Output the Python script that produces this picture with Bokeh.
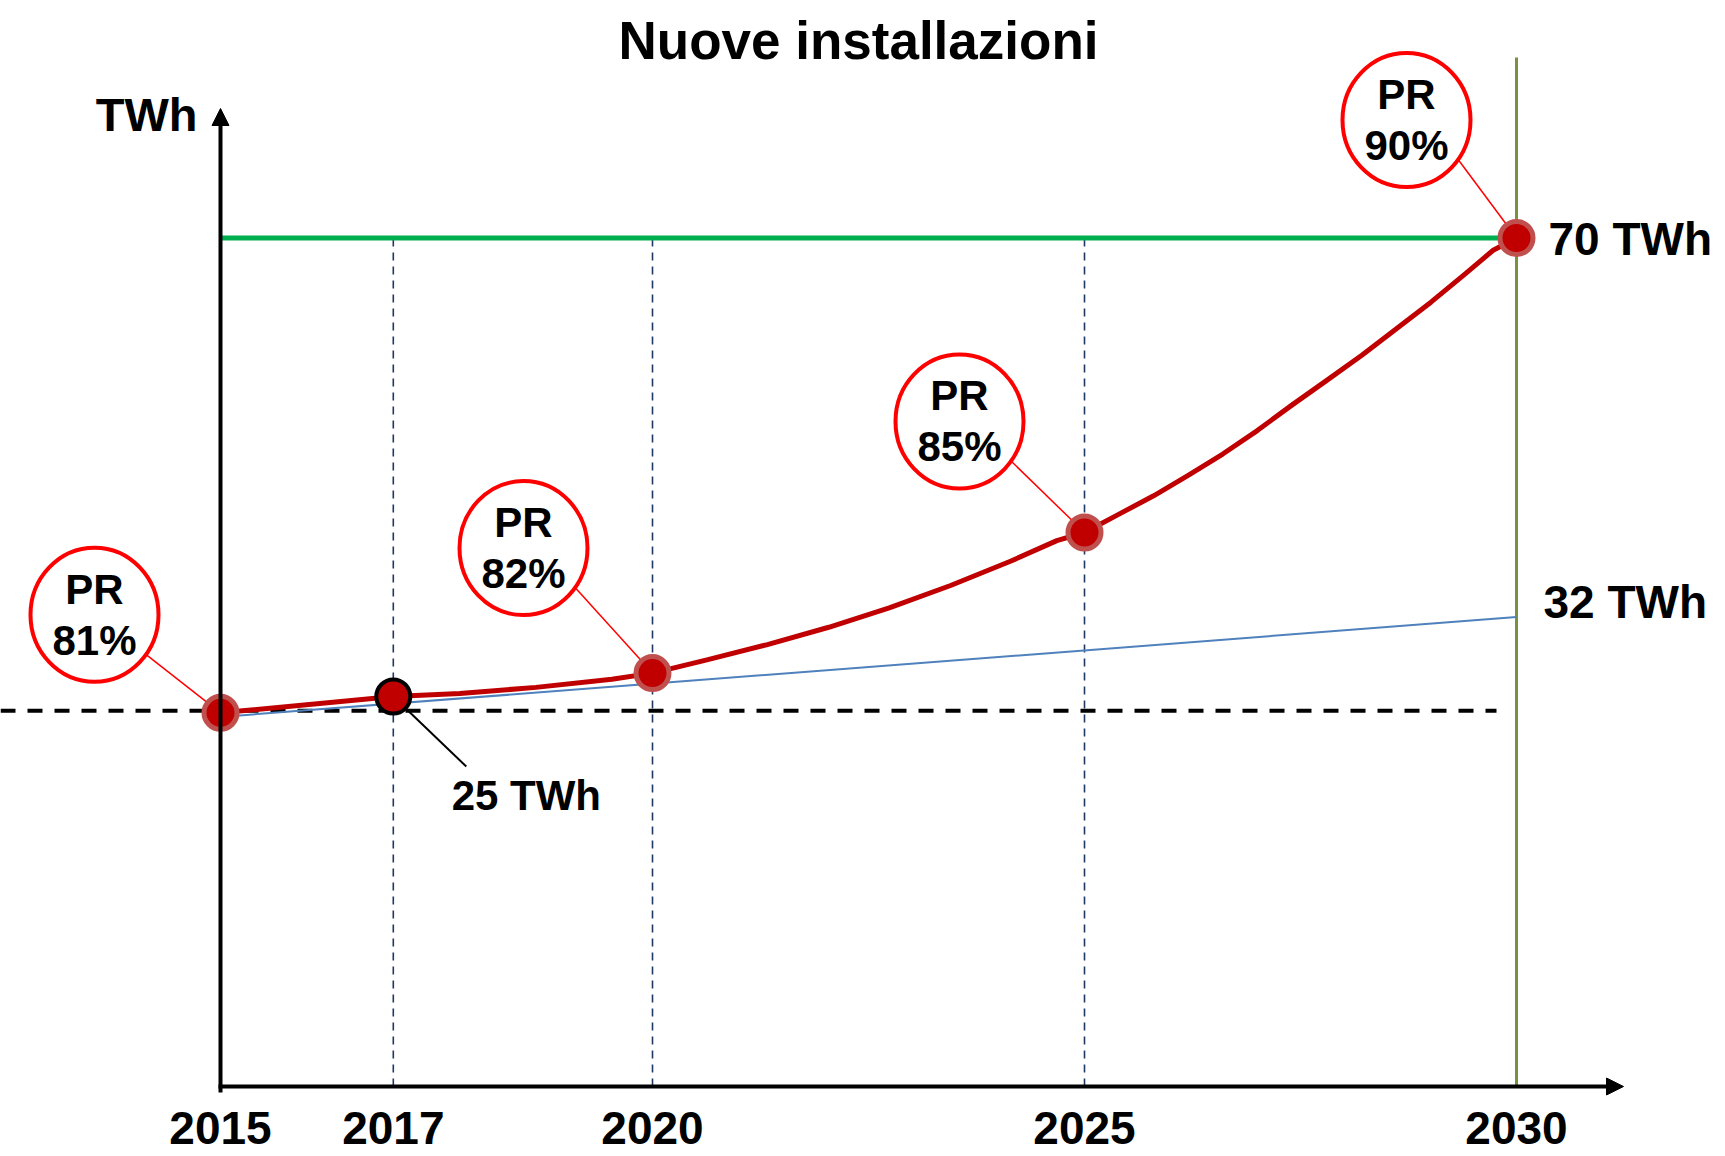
from bokeh.plotting import figure
from bokeh.models import Range1d, Arrow, NormalHead
from bokeh.core.properties import value
from bokeh.embed import file_html
from bokeh.resources import INLINE

# ---------------- data ----------------
title_text = "Nuove installazioni"
unit_label = "TWh"

year_ticks = [2015, 2017, 2020, 2025, 2030]
year_labels = ["2015", "2017", "2020", "2025", "2030"]
guide_years = [2017, 2020, 2025]

# PR milestones on the "new installations" curve
pr_years = [2015, 2020, 2025, 2030]
pr_twh = [23.4, 27.3, 41.1, 70.0]
pr_values = ["81%", "82%", "85%", "90%"]

# current level marker
now_year = [2017]
now_twh = [25.0]
now_label = ["25 TWh"]

# red curve
curve_years = [2015, 2017, 2017.77, 2018.65, 2019.53, 2020,
               2020.63, 2021.33, 2022.04, 2022.74, 2023.45, 2024.15, 2024.68, 2025,
               2025.40, 2025.80, 2026.20, 2026.60, 2027.00, 2027.40, 2027.80,
               2028.21, 2028.61, 2029.01, 2029.41, 2029.73, 2030]
curve_twh = [23.4, 25.0, 25.3, 25.9, 26.7, 27.3,
             28.6, 30.1, 31.8, 33.7, 35.9, 38.3, 40.3, 41.1,
             42.9, 44.7, 46.7, 48.8, 51.1, 53.6, 56.0,
             58.5, 61.1, 63.7, 66.5, 68.8, 70.0]

# blue trend line
blue_years = [2015, 2030]
blue_twh = [23.0, 32.8]
blue_label = "32 TWh"

# target and baseline
target_twh = 70.0
target_label = "70 TWh"
baseline_twh = 23.6

# ---------------- layout ----------------
W, H = 1725, 1156
SX = 86.4      # px per year
SY = 10.19     # px per TWh
X0 = 2015 - 220 / SX
Y1 = 70 + 237.5 / SY
TXT_FIX = 0.40  # em, baseline correction for rendered text


def px_x(fx):
    return X0 + fx / SX


def px_y(fy):
    return Y1 - fy / SY


def shift(x, y, dxp=0.0, dyp=0.0):
    return x + dxp / SX, y - dyp / SY


def base(y, fs):
    return y + TXT_FIX * fs / SY


FONT = value("Liberation Sans")
AXIS_Y = px_y(1086)

p = figure(width=W, height=H,
           x_range=Range1d(X0, X0 + W / SX), y_range=Range1d(Y1 - H / SY, Y1),
           x_axis_type=None, y_axis_type=None,
           toolbar_location=None, output_backend="svg",
           min_border=0, outline_line_color=None,
           background_fill_color="white", border_fill_color="white")

# dashed baseline
p.line([X0, px_x(1496)], [baseline_twh, baseline_twh],
       line_color="black", line_width=4, line_dash="15 12")

# navy guides
p.segment(x0=guide_years, y0=[AXIS_Y] * len(guide_years),
          x1=guide_years, y1=[target_twh] * len(guide_years),
          line_color="#1F3864", line_width=1.6, line_dash="8 6")

# green target line
p.line([year_ticks[0], year_ticks[-1]], [target_twh, target_twh],
       line_color="#00B050", line_width=5)

# olive 2030 line
p.segment(x0=[year_ticks[-1]], y0=[AXIS_Y], x1=[year_ticks[-1]], y1=[px_y(57)],
          line_color="#77933C", line_width=3)

# blue line
p.line(blue_years, blue_twh, line_color="#4F81BD", line_width=2)

# red curve
p.line(curve_years, curve_twh, line_color="#C00000", line_width=5, line_join="round")

# axes with arrows
p.add_layout(Arrow(end=NormalHead(size=17, fill_color="black", line_color="black", line_width=1),
                   x_start=year_ticks[0], y_start=px_y(1092),
                   x_end=year_ticks[0], y_end=px_y(108),
                   line_color="black", line_width=4))
p.add_layout(Arrow(end=NormalHead(size=17, fill_color="black", line_color="black", line_width=1),
                   x_start=px_x(218), y_start=AXIS_Y,
                   x_end=px_x(1623), y_end=AXIS_Y,
                   line_color="black", line_width=4))

# callouts
callout_offsets = [(-126, -98), (-129, -125), (-125, -111), (-110, -118)]
cx, cy = [], []
for yr, v, (ox, oy) in zip(pr_years, pr_twh, callout_offsets):
    a, b = shift(yr, v, ox, oy)
    cx.append(a)
    cy.append(b)
lead_x0, lead_y0 = [], []
for a, b in zip(cx, cy):
    s, t = shift(a, b, 52, 40)
    lead_x0.append(s)
    lead_y0.append(t)
p.segment(x0=lead_x0, y0=lead_y0, x1=pr_years, y1=pr_twh,
          line_color="#FF0000", line_width=1.5)

nx, ny = shift(now_year[0], now_twh[0], 73, 70)
p.segment(x0=now_year, y0=now_twh, x1=[nx], y1=[ny], line_color="black", line_width=2)

p.ellipse(x=cx, y=cy, width=128, height=134, width_units="screen", height_units="screen",
          fill_color="white", line_color="#FF0000", line_width=4)

# markers
p.scatter(pr_years, pr_twh, size=33, fill_color="#C00000",
          line_color="#C0504D", line_width=5)
p.scatter(now_year, now_twh, size=34, fill_color="#C00000",
          line_color="black", line_width=4)

# callout texts
p.text(x=cx, y=[base(b + 9 / SY, 42) for b in cy], text=["PR"] * len(cx),
       text_align="center", text_baseline="alphabetic",
       text_font=FONT, text_font_style="bold", text_font_size="42px", text_color="black")
p.text(x=cx, y=[base(b - 42 / SY, 42) for b in cy], text=pr_values,
       text_align="center", text_baseline="alphabetic",
       text_font=FONT, text_font_style="bold", text_font_size="42px", text_color="black")

# value labels
lx, ly = shift(now_year[0], now_twh[0], 133, 116)
p.text(x=[lx], y=[base(ly, 42)], text=now_label, text_align="center", text_baseline="alphabetic",
       text_font=FONT, text_font_style="bold", text_font_size="42px", text_color="black")

tx, ty = shift(year_ticks[-1], target_twh, 32, 19)
p.text(x=[tx], y=[base(ty, 46)], text=[target_label], text_align="left", text_baseline="alphabetic",
       text_font=FONT, text_font_style="bold", text_font_size="46px", text_color="black")

bx, by = shift(blue_years[-1], blue_twh[-1], 27, 3)
p.text(x=[bx], y=[base(by, 46)], text=[blue_label], text_align="left", text_baseline="alphabetic",
       text_font=FONT, text_font_style="bold", text_font_size="46px", text_color="black")

# axis labels
p.text(x=[px_x(197)], y=[base(px_y(133), 47)], text=[unit_label], text_align="right",
       text_baseline="alphabetic", text_font=FONT, text_font_style="bold",
       text_font_size="47px", text_color="black")
p.text(x=year_ticks, y=[base(px_y(1146), 46)] * len(year_ticks), text=year_labels,
       text_align="center", text_baseline="alphabetic", text_font=FONT,
       text_font_style="bold", text_font_size="46px", text_color="black")

# title
p.text(x=[px_x(858)], y=[base(px_y(61), 53)], text=[title_text], text_align="center",
       text_baseline="alphabetic", text_font=FONT, text_font_style="bold",
       text_font_size="53px", text_color="black")

open("out.html", "w").write(file_html(p, INLINE))
